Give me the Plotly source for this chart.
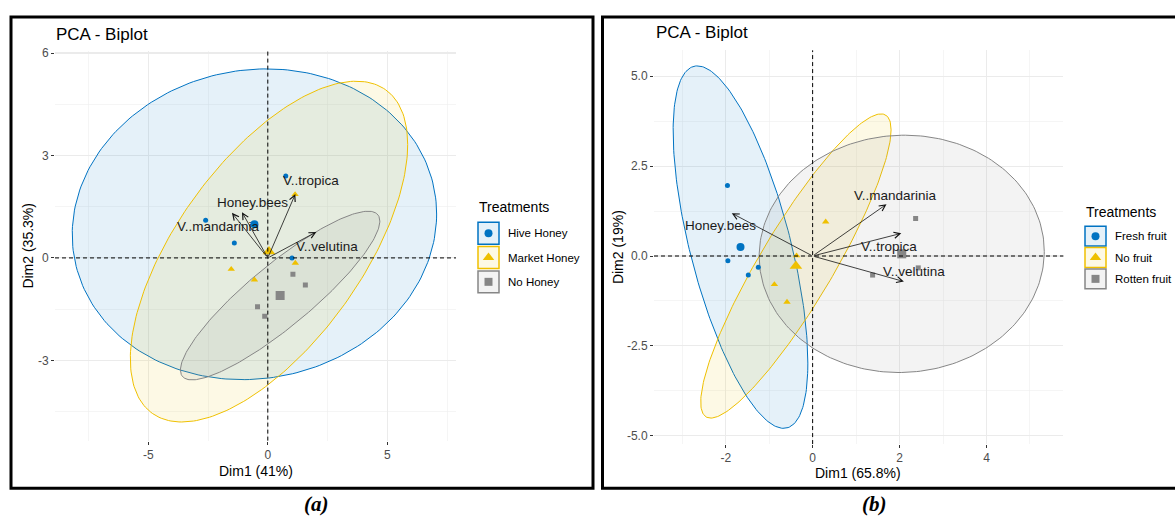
import numpy as np
import plotly.graph_objects as go

W, H = 1175, 517
FONT = "Liberation Sans, Arial, sans-serif"

# ---------------- Panel (a) data ----------------
a_groups = ["Hive Honey", "Market Honey", "No Honey"]
a_hive_x = [-2.60, -1.40, 1.01, 0.75]
a_hive_y = [1.10, 0.44, 0.00, 2.40]
a_market_x = [1.14, -1.53, -0.56, 1.15]
a_market_y = [1.86, -0.33, -0.64, -0.15]
a_none_x = [1.05, 1.57, -0.43, -0.13]
a_none_y = [-0.48, -0.79, -1.43, -1.71]
# ellipse half-extents (x, y) and correlation per group
a_ell_sx = [7.62, 5.80, 4.17]
a_ell_sy = [4.55, 4.99, 2.47]
a_ell_rho = [0.066, 0.629, 0.883]
a_vars = ["V..tropica", "Honey.bees", "V..mandarinia", "V..velutina"]
a_var_x = [1.15, -1.08, -1.50, 2.03]
a_var_y = [1.87, 1.34, 1.32, 0.76]
a_lab_x = [1.80, -0.62, -2.06, 2.48]
a_lab_y = [2.26, 1.63, 0.93, 0.34]
a_xticks = [-5, 0, 5]
a_xticklabels = ["-5", "0", "5"]
a_yticks = [-3, 0, 3, 6]
a_yticklabels = ["-3", "0", "3", "6"]
a_xminor = [-7.5, -2.5, 2.5, 7.5]
a_yminor = [-4.5, -1.5, 1.5, 4.5]

# ---------------- Panel (b) data ----------------
b_groups = ["Fresh fruit", "No fruit", "Rotten fruit"]
b_fresh_x = [-1.96, -1.95, -1.48, -1.25]
b_fresh_y = [1.96, -0.13, -0.53, -0.31]
b_nofruit_x = [0.30, -0.37, -0.88, -0.59]
b_nofruit_y = [0.95, 0.01, -0.79, -1.28]
b_rotten_x = [2.37, 1.38, 2.02, 2.43]
b_rotten_y = [1.04, -0.53, 0.06, -0.33]
b_ell_sx = [1.55, 2.19, 3.28]
b_ell_sy = [5.04, 4.23, 3.30]
b_ell_rho = [-0.64, 0.895, 0.02]
b_vars = ["Honey.bees", "V..mandarinia", "V..tropica", "V..velutina"]
b_var_x = [-1.86, 1.70, 2.04, 2.10]
b_var_y = [1.19, 1.44, 0.63, -0.71]
b_lab_x = [-2.12, 1.91, 1.76, 2.34]
b_lab_y = [0.86, 1.69, 0.26, -0.43]
b_xticks = [-2, 0, 2, 4]
b_xticklabels = ["-2", "0", "2", "4"]
b_yticks = [-5, -2.5, 0, 2.5, 5]
b_yticklabels = ["-5.0", "-2.5", "0.0", "2.5", "5.0"]
b_xminor = [-3, -1, 1, 3, 5]
b_yminor = [-3.75, -1.25, 1.25, 3.75]

colors = ["#0073C2", "#EFC000", "#868686"]
symbols = ["circle", "triangle-up", "square"]
pt_sizes = [5, 6.5, 5]
ct_sizes = [8, 11, 9]


def rgba(hexc, a):
    h = hexc.lstrip("#")
    r, g, b = int(h[0:2], 16), int(h[2:4], 16), int(h[4:6], 16)
    return f"rgba({r},{g},{b},{a})"


def px(x):
    return x / W


def py(y):
    return 1 - y / H


fig = go.Figure()
shapes = []
annotations = []


def add_panel(xa, ya, xs, ys, sx, sy, rho, vx, vy, vnames, lx, ly):
    t = np.linspace(0, 2 * np.pi, 241)
    # ellipses
    for i in range(3):
        cx, cy = np.mean(xs[i]), np.mean(ys[i])
        ex = cx + sx[i] * np.cos(t)
        ey = cy + sy[i] * (rho[i] * np.cos(t) + np.sqrt(1 - rho[i] ** 2) * np.sin(t))
        fig.add_trace(go.Scatter(x=ex, y=ey, mode="lines", fill="toself",
                                 fillcolor=rgba(colors[i], 0.1),
                                 line=dict(color=colors[i], width=1),
                                 xaxis=xa, yaxis=ya, showlegend=False, hoverinfo="skip"))
    # points + centroids
    for i in range(3):
        fig.add_trace(go.Scatter(x=xs[i], y=ys[i], mode="markers",
                                 marker=dict(color=colors[i], symbol=symbols[i], size=pt_sizes[i]),
                                 xaxis=xa, yaxis=ya, showlegend=False))
        fig.add_trace(go.Scatter(x=[np.mean(xs[i])], y=[np.mean(ys[i])], mode="markers",
                                 marker=dict(color=colors[i], symbol=symbols[i], size=ct_sizes[i]),
                                 xaxis=xa, yaxis=ya, showlegend=False))
    # dashed reference lines
    shapes.append(dict(type="line", xref=xa, yref=ya + " domain", x0=0, x1=0, y0=0, y1=1,
                       line=dict(color="black", width=1, dash="4px,3px"), layer="above"))
    shapes.append(dict(type="line", xref=xa + " domain", yref=ya, x0=0, x1=1, y0=0, y1=0,
                       line=dict(color="black", width=1, dash="4px,3px"), layer="above"))
    # arrows
    for i in range(len(vnames)):
        annotations.append(dict(x=vx[i], y=vy[i], ax=0, ay=0, xref=xa, yref=ya,
                                axref=xa, ayref=ya, text="", showarrow=True,
                                arrowhead=5, arrowsize=1.5, arrowwidth=0.8,
                                arrowcolor="#111111", standoff=0, startstandoff=0))
        annotations.append(dict(x=lx[i], y=ly[i], xref=xa, yref=ya, text=vnames[i],
                                showarrow=False, font=dict(family=FONT, size=13.5, color="#1A1A1A")))


add_panel("x", "y",
          [a_hive_x, a_market_x, a_none_x], [a_hive_y, a_market_y, a_none_y],
          a_ell_sx, a_ell_sy, a_ell_rho, a_var_x, a_var_y, a_vars, a_lab_x, a_lab_y)
add_panel("x2", "y2",
          [b_fresh_x, b_nofruit_x, b_rotten_x], [b_fresh_y, b_nofruit_y, b_rotten_y],
          b_ell_sx, b_ell_sy, b_ell_rho, b_var_x, b_var_y, b_vars, b_lab_x, b_lab_y)


def legend_block(xbox, ytitle, yfirst, dy, bh, names):
    annotations.append(dict(x=px(xbox - 1), y=py(ytitle), xref="paper", yref="paper",
                            text="Treatments", showarrow=False, xanchor="left", yanchor="middle",
                            font=dict(family=FONT, size=14, color="black")))
    for i, nm in enumerate(names):
        yc = yfirst + i * dy
        shapes.append(dict(type="rect", xref="paper", yref="paper",
                           x0=px(xbox), x1=px(xbox + 21), y0=py(yc - bh / 2), y1=py(yc + bh / 2),
                           fillcolor=rgba(colors[i], 0.1), line=dict(color=colors[i], width=1.5)))
        fig.add_trace(go.Scatter(x=[xbox + 10.5], y=[yc], mode="markers",
                                 marker=dict(color=colors[i], symbol=symbols[i],
                                             size=[8, 10, 8][i]),
                                 xaxis="x3", yaxis="y3", showlegend=False, hoverinfo="skip"))
        annotations.append(dict(x=px(xbox + 28), y=py(yc), xref="paper", yref="paper",
                                text=nm, showarrow=False, xanchor="left", yanchor="middle",
                                font=dict(family=FONT, size=11.5, color="black")))


legend_block(478, 205, 231, 24.5, 22, a_groups)
legend_block(1085, 210, 234, 21.5, 20, b_groups)

# borders
shapes.append(dict(type="rect", xref="paper", yref="paper", x0=px(11), x1=px(593),
                   y0=py(13), y1=py(488), line=dict(color="black", width=3)))
shapes.append(dict(type="rect", xref="paper", yref="paper", x0=px(602.5), x1=px(1180),
                   y0=py(13), y1=py(488), line=dict(color="black", width=3)))


def txt(x, y, s, size, anchor="center", angle=0, family=FONT, color="black"):
    annotations.append(dict(x=px(x), y=py(y), xref="paper", yref="paper", text=s,
                            showarrow=False, xanchor=anchor, yanchor="middle", textangle=angle,
                            font=dict(family=family, size=size, color=color)))


txt(54, 31, "PCA - Biplot", 17, anchor="left")
txt(654, 29, "PCA - Biplot", 17, anchor="left")
txt(256, 471, "Dim1 (41%)", 14)
txt(858, 473, "Dim1 (65.8%)", 14)
txt(28.5, 244, "Dim2 (35.3%)", 14, angle=-90)
txt(618, 245, "Dim2 (19%)", 14, angle=-90)
txt(316, 504, "<b><i>(a)</i></b>", 21, family="Liberation Serif, DejaVu Serif, serif")
txt(874, 504, "<b><i>(b)</i></b>", 21, family="Liberation Serif, DejaVu Serif, serif")


def axis(domain, rng, tv, tt, minor_vals):
    return dict(domain=domain, range=rng, tickmode="array", tickvals=tv, ticktext=tt,
                showgrid=True, gridcolor="#EBEBEB", gridwidth=1.1, zeroline=False,
                showline=False, ticks="outside", ticklen=3, tickwidth=1, tickcolor="#333333",
                tickfont=dict(family=FONT, size=12, color="#4D4D4D"),
                minor=dict(tickmode="array", tickvals=minor_vals, showgrid=True,
                           gridcolor="#EFEFEF", gridwidth=0.6, ticks=""),
                fixedrange=True)


layout = dict(
    width=W, height=H, margin=dict(l=0, r=0, t=0, b=0),
    paper_bgcolor="white", plot_bgcolor="rgba(0,0,0,0)", showlegend=False,
    xaxis=axis([px(55), px(456)], [-8.9, 7.87], a_xticks, a_xticklabels, a_xminor),
    yaxis=axis([py(440), py(47)], [-5.35, 6.07], a_yticks, a_yticklabels, a_yminor),
    xaxis2=axis([px(654), px(1063.4)], [-3.65, 5.77], b_xticks, b_xticklabels, b_xminor),
    yaxis2=axis([py(443.5), py(46.7)], [-5.23, 5.72], b_yticks, b_yticklabels, b_yminor),
    xaxis3=dict(domain=[0, 1], range=[0, W], visible=False, fixedrange=True),
    yaxis3=dict(domain=[0, 1], range=[H, 0], visible=False, fixedrange=True),
    shapes=shapes, annotations=annotations,
)
layout["xaxis"]["anchor"] = "y"
layout["yaxis"]["anchor"] = "x"
layout["xaxis2"]["anchor"] = "y2"
layout["yaxis2"]["anchor"] = "x2"
layout["xaxis3"]["anchor"] = "y3"
layout["yaxis3"]["anchor"] = "x3"
fig.update_layout(**layout)

fig.write_html("out.html",
               config={"displayModeBar": False, "staticPlot": True},
               post_script="document.body.style.margin='0';document.body.style.padding='0';"
                           "document.body.style.overflow='hidden';")
